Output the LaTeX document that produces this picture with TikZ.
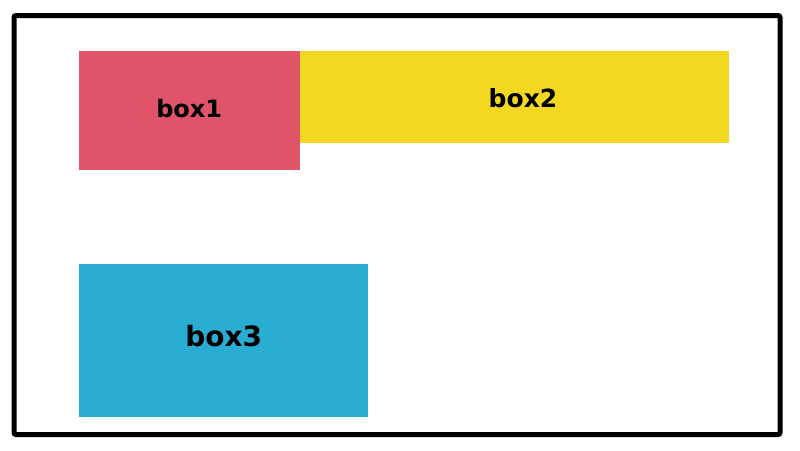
\documentclass[tikz,border=0pt]{standalone}
\usepackage{fontspec}
\setmainfont{DejaVu Sans}
\definecolor{cred}{HTML}{DF5469}
\definecolor{cyellow}{HTML}{F3D822}
\definecolor{cblue}{HTML}{2AADD3}
\begin{document}
\begin{tikzpicture}[x=1pt,y=-1pt,
  fillbox/.style={draw=none,inner sep=0pt},
  lbl/.style={anchor=base,inner sep=0pt,font=\bfseries}]
\useasboundingbox (0,0) rectangle (800,450);
\draw[line width=5pt,rounded corners=2pt] (14,15.5) rectangle (780,434.5);
\fill[cred] (79,51) rectangle (300,170);
\fill[cyellow] (300,51) rectangle (729.3,143.3);
\fill[cblue] (79,264) rectangle (368.3,416.7);
\node[lbl,font=\fontsize{24}{28}\selectfont\bfseries] (t1) at (189.2,117.3) {box1};
\node[lbl,font=\fontsize{25}{29}\selectfont\bfseries] (t2) at (523,107.7) {box2};
\node[lbl,font=\fontsize{28}{32}\selectfont\bfseries] (t3) at (223.7,346) {box3};
\end{tikzpicture}
\end{document}
